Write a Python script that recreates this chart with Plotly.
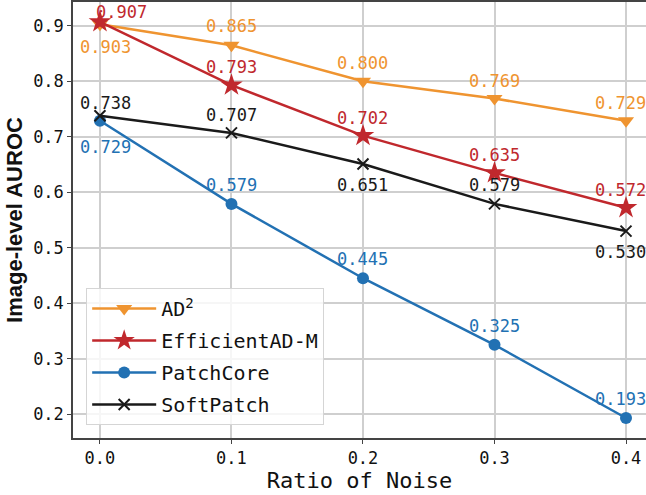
import plotly.graph_objects as go

# ---- data ----
noise_ratio = [0.0, 0.1, 0.2, 0.3, 0.4]
ad2 = [0.903, 0.865, 0.800, 0.769, 0.729]
efficientad_m = [0.907, 0.793, 0.702, 0.635, 0.572]
patchcore = [0.729, 0.579, 0.445, 0.325, 0.193]
softpatch = [0.738, 0.707, 0.651, 0.579, 0.530]
series_names = ["AD<sup>2</sup>", "EfficientAD-M", "PatchCore", "SoftPatch"]
y_ticks = [0.2, 0.3, 0.4, 0.5, 0.6, 0.7, 0.8, 0.9]
x_title = "Ratio of Noise"
y_title = "Image-level AUROC"

# ---- style ----
colors = ["#EF9430", "#C0282D", "#2271B3", "#1a1a1a"]
symbols = ["triangle-down", "star", "circle", "x-thin"]
msizes = [14, 17, 12, 11]
# label offsets (px) per series per point: (xshift, yshift)
label_offsets = [
    [(6, -23), (0, 19), (0, 18), (0, 18), (-6, 18)],
    [(22, 10), (0, 18), (0, 18), (0, 18), (-6, 18)],
    [(6, -26), (0, 19), (0, 19), (0, 19), (-6, 19)],
    [(6, 13), (0, 18), (0, -21), (0, 19), (-6, -21)],
]
FONT = "DejaVu Sans Mono"

all_series = [ad2, efficientad_m, patchcore, softpatch]

fig = go.Figure()
annotations = []
for name, vals, c, s, ms, offs in zip(series_names, all_series, colors, symbols, msizes, label_offsets):
    marker = dict(symbol=s, size=ms, color=c)
    if s == "x-thin":
        marker["line"] = dict(color=c, width=2)
    fig.add_trace(go.Scatter(
        x=noise_ratio, y=vals, name=name, mode="lines+markers", legendgroup=name,
        line=dict(color=c, width=2.5), marker=marker,
    ))
    for xv, yv, (dx, dy) in zip(noise_ratio, vals, offs):
        annotations.append(dict(
            x=xv, y=yv, text=f"{yv:.3f}", showarrow=False,
            xshift=dx, yshift=dy, font=dict(family=FONT, size=17, color=c),
        ))

fig.update_layout(
    width=646, height=495,
    margin=dict(l=73, r=0, t=2, b=57),
    plot_bgcolor="white", paper_bgcolor="white",
    font=dict(family=FONT, color="#111"),
    annotations=annotations,
    showlegend=True,
    legend=dict(
        x=0.023, y=0.03, xanchor="left", yanchor="bottom",
        bgcolor="rgba(255,255,255,0.8)", bordercolor="#d5d5d5", borderwidth=1,
        font=dict(family=FONT, size=20, color="#111"),
        itemwidth=64, tracegroupgap=3,
    ),
    xaxis=dict(
        range=[-0.0205, 0.4152], tickvals=noise_ratio,
        ticktext=[f"{v:.1f}" for v in noise_ratio],
        showgrid=True, gridcolor="#cfcfcf", gridwidth=1.5,
        showline=True, linecolor="#444", linewidth=1.5, mirror=True,
        ticks="outside", ticklen=4, tickcolor="#444",
        tickfont=dict(family=FONT, size=17, color="#111"),
        title=dict(text=x_title, font=dict(family=FONT, size=22, color="#111"), standoff=4),
        zeroline=False, automargin=False,
    ),
    yaxis=dict(
        range=[0.157, 0.943], tickvals=y_ticks,
        ticktext=[f"{v:.1f}" for v in y_ticks],
        showgrid=True, gridcolor="#cfcfcf", gridwidth=1.5,
        showline=True, linecolor="#444", linewidth=1.5, mirror=False,
        ticks="outside", ticklen=4, tickcolor="#444",
        tickfont=dict(family=FONT, size=17, color="#111"),
        title=dict(text="<b>" + y_title + "</b>",
                   font=dict(family="Liberation Sans Narrow, Liberation Sans", size=22, color="#111"),
                   standoff=4),
        zeroline=False, automargin=False,
    ),
)

fig.write_html("out.html", config={"displayModeBar": False},
               post_script="document.body.style.margin='0';")
